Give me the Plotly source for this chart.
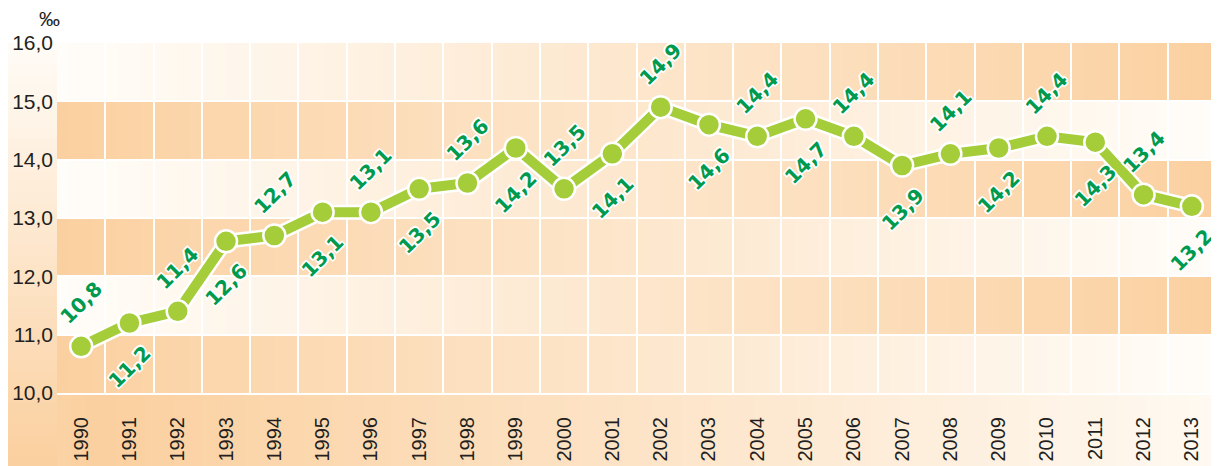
import plotly.graph_objects as go

years = ['1990', '1991', '1992', '1993', '1994', '1995', '1996', '1997',
         '1998', '1999', '2000', '2001', '2002', '2003', '2004', '2005',
         '2006', '2007', '2008', '2009', '2010', '2011', '2012', '2013']
rates = [10.8, 11.2, 11.4, 12.6, 12.7, 13.1, 13.1, 13.5, 13.6, 14.2, 13.5, 14.1,
         14.9, 14.6, 14.4, 14.7, 14.4, 13.9, 14.1, 14.2, 14.4, 14.3, 13.4, 13.2]
y_ticks = [10, 11, 12, 13, 14, 15, 16]
unit = '‰'

# the page body adds an 8px margin, so the figure is 8px smaller than the window
W, H = 1211, 458
ML, MR, MT, MB = 49, 3, 35, 73
LIGHT = (255, 253, 249)
ORANGE = (251, 208, 160)
GREEN = '#a5cd39'
TEXT_GREEN = '#009a4e'


def mix(t):
    t = max(0.0, min(1.0, t))
    r, g, b = (round(l + (o - l) * t) for l, o in zip(LIGHT, ORANGE))
    return f'rgb({r},{g},{b})'


def fmt(v):
    return f'{v:.1f}'.replace('.', ',')


x_idx = list(range(len(years)))
x0, x1 = -0.5, len(years) - 0.5
shapes = []

# outer frame: orange in the bottom-left corner, fading to light
pw, ph = W - ML - MR, H - MT - MB


def px2paper(px, py):
    return (px - ML) / pw, (H - MB - py) / ph


n = 40
for i in range(n):
    top = MT + (H - MT) * i / n
    bot = MT + (H - MT) * (i + 1) / n
    v = 1 - ((top + bot) / 2 - MT) / (H - MT)
    a = px2paper(0, top)
    b = px2paper(ML + 1, bot + 1)
    shapes.append(dict(type='rect', xref='paper', yref='paper', layer='below',
                       x0=a[0], x1=b[0], y0=b[1], y1=a[1],
                       fillcolor=mix(1 - abs(0.02 - v)), line_width=0))
n = 80
for i in range(n):
    left = ML + (W - ML) * i / n
    right = ML + (W - ML) * (i + 1) / n
    u = ((left + right) / 2) / W
    a = px2paper(left, H - MB)
    b = px2paper(right + 1, H)
    shapes.append(dict(type='rect', xref='paper', yref='paper', layer='below',
                       x0=a[0], x1=b[0], y0=b[1], y1=a[1],
                       fillcolor=mix(1 - abs(u - 0.08)), line_width=0))

# horizontal bands, alternating direction of the gradient
n = 96
step = (x1 - x0) / n
for k in range(len(y_ticks) - 1):
    for i in range(n):
        f = (i + 0.5) / n
        t = 1 - f if k % 2 == 0 else f
        shapes.append(dict(type='rect', xref='x', yref='y', layer='below',
                           x0=x0 + i * step, x1=x0 + (i + 1) * step + step * 0.1,
                           y0=y_ticks[k], y1=y_ticks[k + 1],
                           fillcolor=mix(t), line_width=0))

fig = go.Figure()
fig.add_trace(go.Scatter(x=x_idx, y=rates, mode='lines',
                         line=dict(color='white', width=15),
                         hoverinfo='skip', showlegend=False))
fig.add_trace(go.Scatter(x=x_idx, y=rates, mode='lines+markers',
                         line=dict(color=GREEN, width=10),
                         marker=dict(size=22, color=GREEN,
                                     line=dict(color='white', width=2.5)),
                         showlegend=False))

outline = ', '.join(f'{dx}px {dy}px 0 #fff'
                    for dx in (-1.5, 0, 1.5) for dy in (-1.5, 0, 1.5) if dx or dy)
annotations = []
for i, v in enumerate(rates):
    annotations.append(dict(x=i, y=v, text=fmt(v), showarrow=False,
                            textangle=-45, xanchor='center', yanchor='middle',
                            yshift=43 if i % 2 == 0 else -44,
                            font=dict(family='DejaVu Sans', size=20,
                                      color=TEXT_GREEN, weight=700,
                                      shadow=outline)))
annotations.append(dict(xref='paper', yref='paper', x=(41 - ML) / pw,
                        y=1 + (MT - 10) / ph, text=unit, showarrow=False,
                        xanchor='center', yanchor='middle',
                        font=dict(family='Liberation Sans', size=21, color='#231f20')))

fig.update_layout(
    template='none',
    width=W, height=H,
    margin=dict(l=ML, r=MR, t=MT, b=MB, autoexpand=False),
    paper_bgcolor='white', plot_bgcolor='rgba(0,0,0,0)',
    shapes=shapes, annotations=annotations, showlegend=False,
    font=dict(family='Liberation Sans', color='#231f20'),
    xaxis=dict(range=[x0, x1], tickmode='array', tickvals=x_idx, ticktext=years,
               tickangle=-90, tickfont=dict(size=20), ticks='', automargin=False,
               ticklabelstandoff=14, showgrid=False, zeroline=False,
               showline=True, linecolor='white', linewidth=2,
               minor=dict(tickmode='array',
                          tickvals=[i - 0.5 for i in range(len(years) + 1)],
                          showgrid=True, gridcolor='white', gridwidth=2, ticks='')),
    yaxis=dict(range=[y_ticks[0], y_ticks[-1]], tickmode='array', tickvals=y_ticks,
               ticktext=[fmt(v) for v in y_ticks], tickfont=dict(size=21),
               ticks='', automargin=False, ticklabelstandoff=3, showgrid=True,
               gridcolor='white', gridwidth=2, zeroline=False, showline=False),
)

fig.write_html('out.html')
